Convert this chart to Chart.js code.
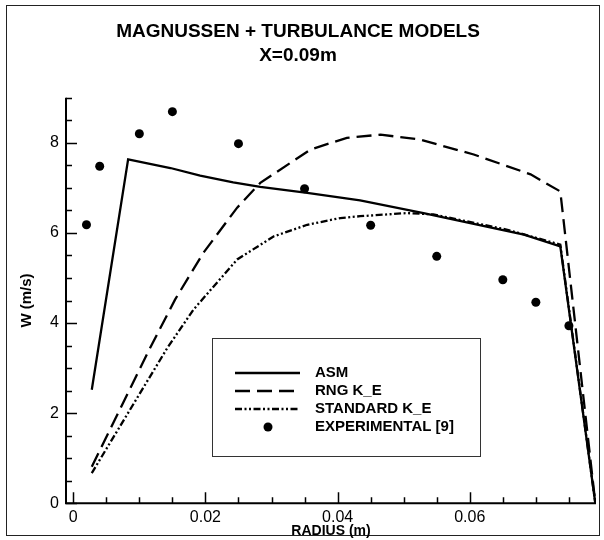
<!DOCTYPE html>
<html>
<head>
<meta charset="utf-8">
<title>Magnussen + turbulence models, X=0.09m</title>
<script src="https://cdn.jsdelivr.net/npm/chart.js@4.4.1/dist/chart.umd.min.js"></script>
<style>
    html, body { margin: 0; padding: 0; background: #fff; }
    #wrap { position: relative; width: 604px; height: 540px; }
</style>
</head>
<body>
<div id="wrap"><canvas id="chart"></canvas></div>
<script>
// Axial velocity W against radius at X = 0.09 m: three turbulence models
// (Magnussen combustion) plus the measured points.
const ASM_R = [0.0028, 0.0083, 0.0147, 0.0192, 0.0242, 0.0283, 0.0354, 0.0434, 0.0530, 0.0682, 0.0737, 0.0790];
const ASM_W = [2.52, 7.63, 7.44, 7.27, 7.12, 7.02, 6.89, 6.72, 6.44, 5.96, 5.70, 0];

const RNG_R = [0.0028, 0.0116, 0.0154, 0.0197, 0.0248, 0.0283, 0.0359, 0.0414, 0.0465, 0.0525, 0.0606, 0.0692, 0.0737, 0.0790];
const RNG_W = [0.81, 3.44, 4.52, 5.56, 6.56, 7.11, 7.85, 8.11, 8.18, 8.07, 7.74, 7.30, 6.92, 0];

const STD_R = [0.0028, 0.0142, 0.0182, 0.0248, 0.0303, 0.0354, 0.0404, 0.0434, 0.0505, 0.0545, 0.0657, 0.0737, 0.0790];
const STD_W = [0.67, 3.44, 4.30, 5.41, 5.92, 6.18, 6.33, 6.37, 6.44, 6.41, 6.07, 5.74, 0];

const EXP_R = [0.002, 0.004, 0.010, 0.015, 0.025, 0.035, 0.045, 0.055, 0.065, 0.070, 0.075];
const EXP_W = [6.18, 7.48, 8.20, 8.69, 7.98, 6.98, 6.17, 5.48, 4.96, 4.46, 3.94];

const X_TICKS = [0, 0.02, 0.04, 0.06];
const X_TICK_LABELS = ['0', '0.02', '0.04', '0.06'];
const Y_TICKS = [0, 2, 4, 6, 8];
const Y_TICK_LABELS = ['0', '2', '4', '6', '8'];
const X_MINOR_STEP = 0.005;
const Y_MINOR_STEP = 0.5;

const SERIES_NAMES = ['ASM', 'RNG K_E', 'STANDARD K_E', 'EXPERIMENTAL [9]'];

const FONT = "'Liberation Sans', Arial, Helvetica, sans-serif";
Chart.defaults.font.family = FONT;
Chart.defaults.color = '#000';

const pairs = (xs, ys) => xs.map((x, i) => ({ x, y: ys[i] }));

// Tecplot-style axes: only left/bottom lines, ticks pointing inwards.
const axesPlugin = {
    id: 'inwardAxes',
    beforeDraw(chart) {
        const { ctx, width, height } = chart;
        ctx.save();
        ctx.fillStyle = '#fff';
        ctx.fillRect(0, 0, width, height);
        ctx.strokeStyle = '#222';
        ctx.lineWidth = 1;
        ctx.strokeRect(6.5, 5.5, width - 11, height - 10);
        ctx.restore();
    },
    afterDraw(chart) {
        const { ctx, chartArea: a, scales: { x, y } } = chart;
        const major = 11, minor = 6;
        ctx.save();
        ctx.strokeStyle = '#000';
        ctx.lineWidth = 2;
        ctx.beginPath();
        ctx.moveTo(a.left, a.top);
        ctx.lineTo(a.left, a.bottom);
        ctx.lineTo(a.right, a.bottom);
        ctx.stroke();

        ctx.lineWidth = 1.5;
        ctx.beginPath();
        for (let v = 0; v <= x.max + 1e-9; v += X_MINOR_STEP) {
            const isMajor = X_TICKS.some((t) => Math.abs(t - v) < 1e-6);
            const px = Math.round(x.getPixelForValue(v)) + 0.5;
            ctx.moveTo(px, a.bottom);
            ctx.lineTo(px, a.bottom - (isMajor ? major : minor));
        }
        for (let v = 0; v <= y.max + 1e-9; v += Y_MINOR_STEP) {
            const isMajor = Y_TICKS.some((t) => Math.abs(t - v) < 1e-6);
            const py = Math.round(y.getPixelForValue(v)) + 0.5;
            ctx.moveTo(a.left, py);
            ctx.lineTo(a.left + (isMajor ? major : minor), py);
        }
        ctx.stroke();
        ctx.restore();
    },
};

// Boxed legend sitting inside the plot, below the curves.
const boxLegendPlugin = {
    id: 'boxLegend',
    afterDraw(chart) {
        const { ctx } = chart;
        const box = { left: 212.5, top: 338.5, right: 480.5, bottom: 456.5 };
        ctx.save();
        ctx.strokeStyle = '#333';
        ctx.lineWidth = 1;
        ctx.strokeRect(box.left, box.top, box.right - box.left, box.bottom - box.top);

        ctx.font = `bold 15px ${FONT}`;
        ctx.textBaseline = 'middle';
        ctx.fillStyle = '#000';
        chart.data.datasets.forEach((ds, i) => {
            const rowY = 373 + i * 18;
            if (ds.showLine) {
                ctx.strokeStyle = ds.borderColor;
                ctx.lineWidth = ds.borderWidth;
                ctx.setLineDash(ds.borderDash || []);
                ctx.beginPath();
                ctx.moveTo(235, rowY);
                ctx.lineTo(300, rowY);
                ctx.stroke();
                ctx.setLineDash([]);
            } else {
                ctx.beginPath();
                ctx.arc(268, rowY, ds.pointRadius, 0, Math.PI * 2);
                ctx.fill();
            }
            ctx.fillText(ds.label, 315, rowY);
        });
        ctx.restore();
    },
};

const lineSet = (label, data, dash) => ({
    label,
    data,
    showLine: true,
    borderColor: '#000',
    borderWidth: 2.3,
    borderDash: dash,
    pointRadius: 0,
    tension: 0,
    fill: false,
});

new Chart(document.getElementById('chart'), {
    type: 'scatter',
    data: {
        datasets: [
            lineSet(SERIES_NAMES[0], pairs(ASM_R, ASM_W), []),
            lineSet(SERIES_NAMES[1], pairs(RNG_R, RNG_W), [15, 7]),
            lineSet(SERIES_NAMES[2], pairs(STD_R, STD_W), [7, 2.5, 2, 2.5, 2, 2.5]),
            {
                label: SERIES_NAMES[3],
                data: pairs(EXP_R, EXP_W),
                showLine: false,
                backgroundColor: '#000',
                borderColor: '#000',
                pointRadius: 4.5,
                borderWidth: 0,
            },
        ],
    },
    options: {
        responsive: true,
        maintainAspectRatio: false,
        animation: false,
        devicePixelRatio: 1,
        layout: { padding: { left: 0, right: 8, top: 0, bottom: 0 } },
        plugins: {
            legend: { display: false },
            tooltip: { enabled: false },
            title: {
                display: true,
                text: 'MAGNUSSEN + TURBULANCE MODELS',
                color: '#000',
                font: { size: 19, weight: 'bold' },
                padding: { top: 20.6, bottom: 0 },
            },
            subtitle: {
                display: true,
                text: 'X=0.09m',
                color: '#000',
                font: { size: 19, weight: 'bold' },
                padding: { top: 1, bottom: 30.5 },
            },
        },
        scales: {
            x: {
                type: 'linear',
                min: -0.0011,
                max: 0.0791,
                afterBuildTicks: (s) => { s.ticks = X_TICKS.map((v) => ({ value: v })); },
                afterFit: (s) => { s.height = 36.7; },
                ticks: {
                    callback: (v, i) => X_TICK_LABELS[i],
                    font: { size: 16 },
                    color: '#000',
                    padding: 5,
                    maxRotation: 0,
                    autoSkip: false,
                },
                grid: { display: false, drawTicks: false },
                border: { display: false },
                title: {
                    display: true,
                    text: 'RADIUS (m)',
                    color: '#000',
                    font: { size: 14, weight: 'bold' },
                    padding: { top: 0, bottom: 0 },
                },
            },
            y: {
                type: 'linear',
                min: 0,
                max: 9,
                afterBuildTicks: (s) => { s.ticks = Y_TICKS.map((v) => ({ value: v })); },
                afterFit: (s) => { s.width = 66; },
                ticks: {
                    callback: (v, i) => Y_TICK_LABELS[i],
                    font: { size: 16 },
                    color: '#000',
                    padding: 7,
                    autoSkip: false,
                },
                grid: { display: false, drawTicks: false },
                border: { display: false },
                title: {
                    display: true,
                    text: 'W (m/s)',
                    color: '#000',
                    font: { size: 15, weight: 'bold' },
                    padding: { top: 18, bottom: 0 },
                },
            },
        },
    },
    plugins: [axesPlugin, boxLegendPlugin],
});
</script>
</body>
</html>
